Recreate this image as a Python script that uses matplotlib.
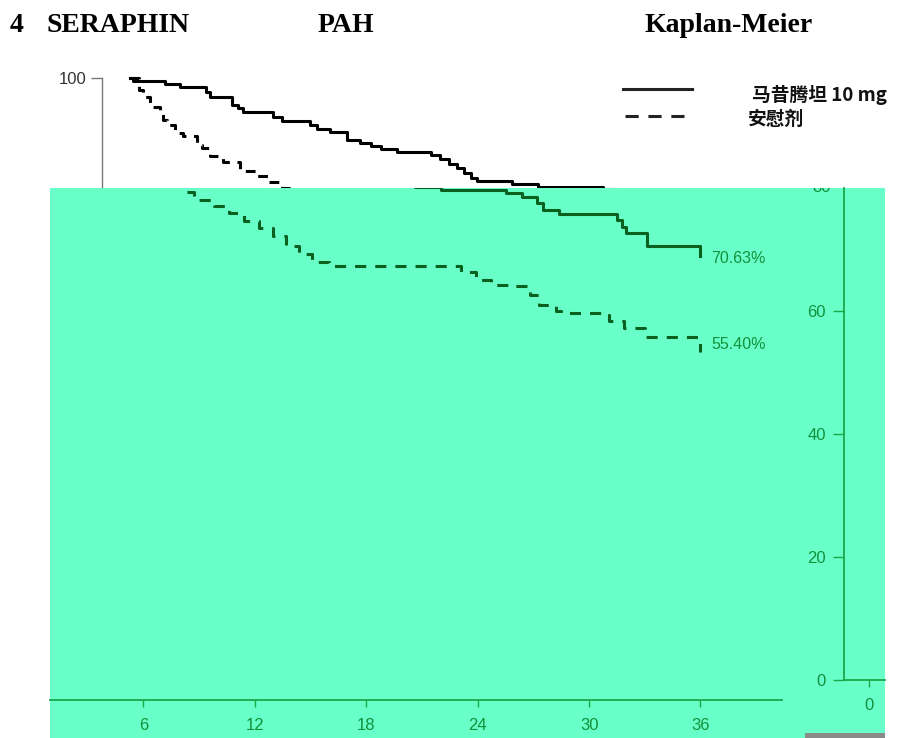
import matplotlib
matplotlib.use("Agg")
import matplotlib.pyplot as plt
from matplotlib.patches import Rectangle
from matplotlib.lines import Line2D
from matplotlib.transforms import Bbox, TransformedBbox

plt.rcParams['font.family'] = ['Liberation Sans', 'DejaVu Sans']
plt.rcParams['lines.scale_dashes'] = False

# Kaplan-Meier step data (months, % event-free)
macitentan_t = [0, 0.16, 1.9, 2.7, 4.1, 4.3, 5.5, 5.8, 6.1, 7.7, 8.2, 9.7, 10.1, 10.8,
                11.7, 12.4, 13.0, 13.5, 14.4, 16.2, 16.7, 17.2, 17.6, 18.0, 18.4, 18.7,
                20.6, 22.0, 25.5, 26.4, 27.2, 27.5, 28.4, 31.5, 31.8, 32.0, 33.1, 36.0]
macitentan_s = [100, 99.5, 98.9, 98.3, 97.4, 96.5, 95.0, 94.4, 93.6, 92.7, 92.0, 91.2, 90.5,
                89.9, 88.4, 87.9, 87.3, 86.7, 86.2, 85.6, 84.9, 83.9, 83.2, 82.2, 81.3, 80.7,
                80.2, 79.7, 79.2, 78.5, 77.6, 76.4, 75.8, 74.8, 73.7, 72.7, 70.63, 69.0]
placebo_t = [0, 0.5, 0.7, 1.1, 1.6, 1.8, 2.0, 2.4, 2.85, 3.6, 3.9, 4.3, 5.0, 5.9, 6.8, 7.5,
             8.2, 8.7, 9.8, 10.6, 11.4, 12.2, 13.0, 13.7, 14.4, 15.1, 16.0, 23.1, 23.9,
             24.7, 25.8, 26.8, 27.3, 28.2, 28.5, 31.1, 31.9, 33.0, 36.0]
placebo_s = [100, 97.8, 96.4, 94.6, 93.5, 92.1, 91.2, 89.7, 89.2, 87.5, 86.9, 85.4, 84.3,
             82.6, 81.7, 80.6, 79.4, 78.0, 77.1, 76.0, 74.6, 73.5, 72.2, 70.6, 69.3, 67.9,
             67.3, 66.3, 65.1, 64.2, 64.0, 62.6, 61.0, 60.0, 59.7, 58.3, 57.3, 55.8, 53.4]
end_labels = ['70.63%', '55.40%']
end_values = [70.63, 55.40]
x_ticks = [6, 12, 18, 24, 30, 36]
y_ticks = [0, 20, 40, 60]
legend_labels = ['马昔腾坦 10 mg', '安慰剂']
title_parts = ['4', 'SERAPHIN', 'PAH', 'Kaplan-Meier']

W, H = 904, 738
fig = plt.figure(figsize=(W / 100, H / 100), dpi=100)
fig.patch.set_facecolor('white')


def px_axes(left, right, top, bottom, z):
    return fig.add_axes([left / W, 1 - bottom / H, (right - left) / W, (bottom - top) / H],
                        zorder=z)


def fx(px):
    return px / W


def fy(py):
    return 1 - py / H


green_bg = '#68ffc8'
green_line = '#09601f'
green_text = '#12913c'
green_axis = '#1aa84a'
dash = (0, (7, 5.5))

# upper (black) part of the chart
axA = px_axes(102, 850, 78, 613, 0)
axA.set_xlim(-1.51, 38.8)
axA.set_ylim(0, 100)
axA.patch.set_alpha(0)
for s in ['top', 'right', 'bottom']:
    axA.spines[s].set_visible(False)
axA.spines['left'].set_color('#777777')
axA.spines['left'].set_linewidth(1)
axA.set_xticks([])
axA.set_yticks([100])
axA.tick_params(axis='y', length=8, width=1, color='#777777', labelsize=12,
                labelcolor='#333333', pad=3)
axA.step(macitentan_t, macitentan_s, where='post', color='black', lw=2.2, clip_on=False)
axA.step(placebo_t, placebo_s, where='post', color='black', lw=2.2, linestyle=dash,
         clip_on=False)

# green overlay block
green_rect = Rectangle((fx(50), fy(738)), fx(885) - fx(50), fy(188) - fy(738),
                       transform=fig.transFigure, facecolor=green_bg, edgecolor='none',
                       zorder=1)
fig.patches.append(green_rect)
fig.patches.append(Rectangle((fx(805), fy(738)), fx(885) - fx(805), fy(733) - fy(738),
                             transform=fig.transFigure, facecolor='#8a8a8a',
                             edgecolor='none', zorder=1.5))

axB = px_axes(50, 782, 188, 700, 2)
axB.set_xlim(0.97, 40.39)
axB.set_ylim(-3.25, 80.0)
axB.patch.set_alpha(0)
for s in ['top', 'right', 'left']:
    axB.spines[s].set_visible(False)
axB.spines['bottom'].set_color(green_axis)
axB.spines['bottom'].set_linewidth(1.3)
axB.set_yticks([])
axB.set_xticks(x_ticks)
axB.tick_params(axis='x', length=5, width=1, color=green_axis, labelsize=12,
                labelcolor=green_text, pad=8)
axB.step(macitentan_t, macitentan_s, where='post', color=green_line, lw=2.2)
axB.step(placebo_t, placebo_s, where='post', color=green_line, lw=2.2,
         linestyle=(0, (8, 6.5)))
for lab, v in zip(end_labels, end_values):
    off = -13 if v > 60 else -5
    axB.annotate(lab, (36, v), xytext=(11, off), textcoords='offset pixels',
                 color=green_text, fontsize=11.5, va='center', ha='left')

# right-hand fragment
axC = px_axes(844, 885, 188, 680, 2)
axC.set_xlim(-1.35, 0.86)
axC.set_ylim(0, 80)
axC.patch.set_alpha(0)
for s in ['top', 'right']:
    axC.spines[s].set_visible(False)
for s in ['left', 'bottom']:
    axC.spines[s].set_color(green_axis)
    axC.spines[s].set_linewidth(1.3)
axC.set_yticks(y_ticks)
axC.set_xticks([0])
axC.tick_params(length=8, width=1, color=green_axis, labelsize=12,
                labelcolor=green_text, pad=5)
axC.tick_params(axis='x', length=5, pad=8)
t80 = fig.text(fx(831), fy(188), '80', color=green_text, fontsize=12,
               ha='right', va='center', zorder=3)
t80.set_clip_box(TransformedBbox(Bbox([[fx(50), fy(738)], [fx(885), fy(188)]]),
                                 fig.transFigure))
t80.set_clip_on(True)

# legend
fig.add_artist(Line2D([fx(623), fx(692)], [fy(89), fy(89)], transform=fig.transFigure,
                      color='#222222', lw=2.2))
fig.add_artist(Line2D([fx(625), fx(685)], [fy(116), fy(116)], transform=fig.transFigure,
                      color='#222222', lw=2.2, linestyle=(0, (9.5, 7))))
cjk = ['Noto Sans CJK SC', 'DejaVu Sans']
fig.text(fx(752), fy(95), legend_labels[0], family=cjk, fontsize=13.5,
         fontweight='bold', va='center', ha='left', color='#111111')
fig.text(fx(748), fy(119), legend_labels[1], family=cjk, fontsize=13.5,
         fontweight='bold', va='center', ha='left', color='#111111')

# heading
for xpx, txt in zip([10, 46, 318, 645], title_parts):
    fig.text(fx(xpx), fy(32), txt, family=['Liberation Serif', 'DejaVu Serif'],
             fontsize=20, fontweight='bold', va='baseline', ha='left', color='black')

fig.savefig('out.png', dpi=100, facecolor='white')
